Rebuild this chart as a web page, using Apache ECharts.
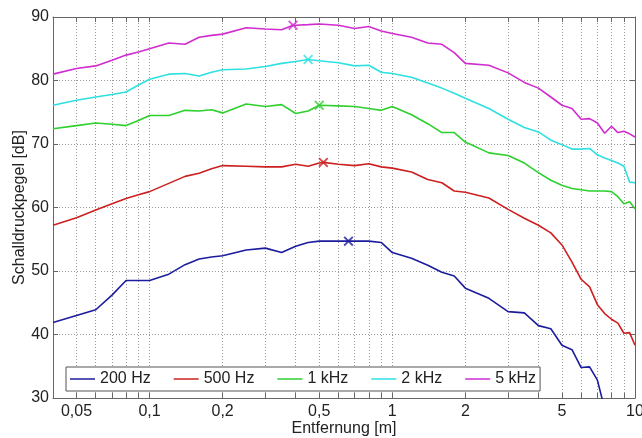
<!DOCTYPE html>
<html><head><meta charset="utf-8">
<script src="https://cdn.jsdelivr.net/npm/echarts@6/dist/echarts.min.js"></script>
<style>html,body{margin:0;padding:0;background:#fff}#c{width:642px;height:438px}</style>
</head><body><div id="c"></div>
<script>
// distances in m
const distances = [0.04,0.05,0.06,0.07,0.08,0.09,0.1,0.12,0.14,0.16,0.18,0.2,0.25,0.3,0.35,0.4,0.45,0.5,0.6,0.7,0.8,0.9,1,1.2,1.4,1.6,1.8,2,2.5,3,3.5,4,4.5,5,5.5,6,6.5,7,7.5,8,8.5,9,9.5,10];
const v200Hz = [41.9,43.0,43.9,46.2,48.5,48.5,48.5,49.5,51.0,51.9,52.2,52.4,53.3,53.6,52.9,53.9,54.5,54.7,54.7,54.7,54.7,54.5,52.9,52.0,50.9,49.8,49.2,47.3,45.7,43.6,43.4,41.4,40.9,38.3,37.6,34.8,34.9,32.8,28.3,25.0,null,null,null,null];
const v500Hz = [57.2,58.4,59.6,60.6,61.4,62.0,62.5,63.8,64.9,65.4,66.1,66.6,66.5,66.4,66.4,66.8,66.5,67.0,66.8,66.6,66.9,66.4,66.2,65.6,64.4,63.9,62.6,62.4,61.5,59.7,58.3,57.2,56.0,54.1,51.4,48.7,47.5,44.7,43.3,42.4,41.8,40.2,40.3,38.3];
const v1kHz = [72.4,72.9,73.3,73.1,72.9,73.7,74.5,74.5,75.3,75.2,75.4,74.9,76.3,75.9,76.2,74.8,75.2,76.1,76.0,75.9,75.6,75.3,75.9,74.6,73.2,71.8,71.8,70.3,68.6,68.2,67.0,65.5,64.3,63.5,63.0,62.8,62.6,62.6,62.6,62.5,61.7,60.6,60.9,59.8];
const v2kHz = [76.1,76.9,77.4,77.8,78.2,79.3,80.2,81.0,81.1,80.7,81.3,81.7,81.8,82.2,82.7,83.0,83.3,83.1,82.8,82.3,82.4,81.3,81.1,80.5,79.6,78.8,78.0,77.2,75.6,73.9,72.6,71.9,70.6,69.9,69.2,69.2,69.3,68.3,67.8,67.4,67.0,66.5,64.0,63.9];
const v5kHz = [81.0,81.9,82.3,83.2,84.0,84.5,85.0,85.9,85.7,86.8,87.1,87.3,88.3,88.1,88.0,88.7,88.8,88.9,88.7,88.2,88.5,87.8,87.4,86.8,85.9,85.7,84.4,82.7,82.4,81.2,79.7,78.8,77.4,76.1,75.6,73.9,74.0,73.3,71.7,72.8,71.8,72.0,71.6,71.1];
const seriesNames = ['200 Hz','500 Hz','1 kHz','2 kHz','5 kHz'];
const peakX = [0.66,0.52,0.5,0.45,0.39];
const peakY = [54.7,67.1,76.1,83.3,88.7];
const xGridValues = [0.05,0.06,0.07,0.08,0.09,0.1,0.2,0.3,0.4,0.5,0.6,0.7,0.8,0.9,1,2,3,4,5,6,7,8,9,10];
const xLabelValues = [0.05,0.1,0.2,0.5,1,2,5,10];
const yTicks = [30,40,50,60,70,80,90];

const colors = ['#1c1c9e','#cc2020','#2ed02e','#2ee0e0','#d02cd0'];
const allValues = [v200Hz,v500Hz,v1kHz,v2kHz,v5kHz];
const FONT = 'Liberation Sans, Arial, sans-serif';
const xMark = 'path://M0,1.3L1.3,0L5,3.7L8.7,0L10,1.3L6.3,5L10,8.7L8.7,10L5,6.3L1.3,10L0,8.7L3.7,5Z';

const series = [];
allValues.forEach((vals, k) => {
  const pts = distances.map((d, i) => [d, vals[i]]).filter(p => p[1] != null);
  pts.push([peakX[k], peakY[k]]);
  pts.sort((a, b) => a[0] - b[0]);
  series.push({
    name: seriesNames[k], type: 'line', data: pts, showSymbol: false, symbol: 'none',
    lineStyle: {color: colors[k], width: 1.6}, itemStyle: {color: colors[k]},
    silent: true, animation: false, clip: true, z: 3
  });
});
allValues.forEach((vals, k) => {
  series.push({
    type: 'scatter', data: [[peakX[k], peakY[k]]], symbol: xMark, symbolSize: 10,
    itemStyle: {color: colors[k]}, silent: true, animation: false, z: 4
  });
});

const axisCol = '#666';
const gridLine = {show: true, lineStyle: {color: '#999', type: [1, 2], width: 1}};
const fmt = v => String(v).replace('.', ',');

const chart = echarts.init(document.getElementById('c'), null, {renderer: 'canvas'});
chart.setOption({
  animation: false,
  backgroundColor: '#fff',
  textStyle: {fontFamily: FONT},
  grid: {left: 53, right: 7, top: 17, bottom: 40, containLabel: false, outerBoundsMode: 'none'},
  xAxis: [{
    type: 'log', logBase: 10, min: 0.04, max: 10,
    name: 'Entfernung [m]', nameLocation: 'middle', nameGap: 23, nameMoveOverlap: false,
    nameTextStyle: {color: '#222', fontSize: 16, fontFamily: FONT},
    axisLine: {show: true, lineStyle: {color: axisCol, width: 1}},
    axisTick: {show: true, inside: true, length: 5, customValues: xGridValues, lineStyle: {color: axisCol}},
    axisLabel: {show: true, customValues: xLabelValues, formatter: fmt, color: '#222', fontSize: 16, fontFamily: FONT, margin: 6, hideOverlap: false},
    splitLine: gridLine, minorTick: {show: false}
  }, {
    type: 'log', logBase: 10, min: 0.04, max: 10, position: 'top',
    axisLine: {show: true, lineStyle: {color: axisCol, width: 1}},
    axisTick: {show: true, inside: true, length: 5, customValues: xGridValues, lineStyle: {color: axisCol}},
    axisLabel: {show: false}, splitLine: {show: false}
  }],
  yAxis: [{
    type: 'value', min: 30, max: 90, interval: 10,
    name: 'Schalldruckpegel [dB]', nameLocation: 'middle', nameGap: 25, nameRotate: 90, nameMoveOverlap: false,
    nameTextStyle: {color: '#222', fontSize: 16, fontFamily: FONT},
    axisLine: {show: true, lineStyle: {color: axisCol, width: 1}},
    axisTick: {show: true, inside: true, length: 5, lineStyle: {color: axisCol}},
    axisLabel: {color: '#222', fontSize: 16, fontFamily: FONT, margin: 4},
    splitLine: gridLine
  }, {
    type: 'value', min: 30, max: 90, interval: 10, position: 'right',
    axisLine: {show: true, lineStyle: {color: axisCol, width: 1}},
    axisTick: {show: true, inside: true, length: 5, lineStyle: {color: axisCol}},
    axisLabel: {show: false}, splitLine: {show: false}
  }],
  legend: {
    show: true, left: 66, top: 367, orient: 'horizontal',
    data: seriesNames.map(n => ({name: n, icon: 'rect'})),
    itemWidth: 25, itemHeight: 1.5, itemGap: 23,
    padding: [3, 4], backgroundColor: '#fff', borderColor: '#555', borderWidth: 1, borderRadius: 0,
    textStyle: {color: '#222', fontSize: 16, fontFamily: FONT, lineHeight: 18},
    selectedMode: false
  },
  series: series
});
</script>
</body></html>
